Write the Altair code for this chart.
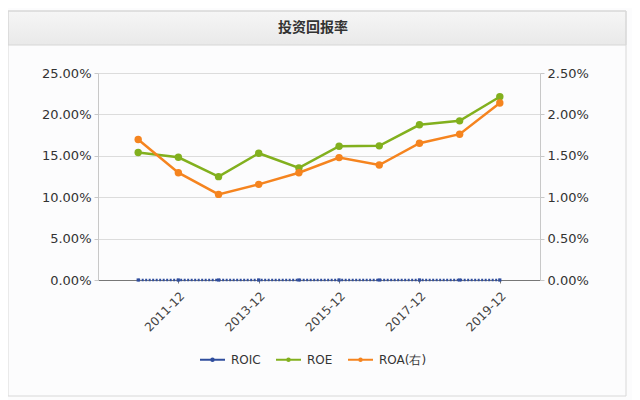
import altair as alt
import pandas as pd

periods = ["2010-12", "2011-12", "2012-12", "2013-12", "2014-12",
           "2015-12", "2016-12", "2017-12", "2018-12", "2019-12"]
tick_labels = ["2011-12", "2013-12", "2015-12", "2017-12", "2019-12"]
roic = [0.0, 0.0, 0.0, 0.0, 0.0, 0.0, 0.0, 0.0, 0.0, 0.0]
roe = [15.39, 14.82, 12.48, 15.31, 13.53, 16.16, 16.20, 18.74, 19.22, 22.13]
roa = [1.696, 1.296, 1.034, 1.155, 1.296, 1.478, 1.389, 1.652, 1.761, 2.137]
series_names = ["ROIC", "ROE", "ROA(右)"]
series_colors = ["#2f4d9d", "#82b01e", "#f5841f"]

def frame(name, vals):
    return pd.DataFrame({"period": periods, "value": [v / 100 for v in vals], "series": name})

df_roic = frame("ROIC", roic)
df_roe = frame("ROE", roe)
df_roa = frame("ROA(右)", roa)

FONT = "DejaVu Sans"
LEG_PATH = "M-1,0L1,0M-0.1,0A0.1,0.1,0,1,0,0.1,0A0.1,0.1,0,1,0,-0.1,0"

x_enc = alt.X("period:O", sort=periods,
              scale=alt.Scale(type="point", padding=1),
              axis=alt.Axis(values=tick_labels, labelAngle=-45, labelAlign="right",
                            labelBaseline="top", labelFontSize=12, labelColor="#444",
                            labelFont=FONT, domainColor="#777", tickColor="#777",
                            tickSize=3, title=None, grid=False, labelPadding=7))

color_enc = alt.Color("series:N",
                      scale=alt.Scale(domain=series_names, range=series_colors),
                      legend=alt.Legend(title=None, orient="none", direction="horizontal",
                                        legendX=101, legendY=273,
                                        symbolType=LEG_PATH, symbolSize=625,
                                        symbolStrokeWidth=2, labelFontSize=12,
                                        labelFont=FONT, labelColor="#333",
                                        columnPadding=11, labelOffset=5))
color_nolegend = alt.Color("series:N",
                           scale=alt.Scale(domain=series_names, range=series_colors),
                           legend=None)

y_left = alt.Y("value:Q", scale=alt.Scale(domain=[0, 0.25]),
               axis=alt.Axis(format=".2%", values=[0, 0.05, 0.10, 0.15, 0.20, 0.25],
                             title=None, labelFontSize=13, labelFont=FONT,
                             labelColor="#333", domainColor="#c8c8c8",
                             tickColor="#c8c8c8", tickSize=4, gridColor="#dcdcdc",
                             labelPadding=3))
y_right = alt.Y("value:Q", scale=alt.Scale(domain=[0, 0.025]),
                axis=alt.Axis(format=".2%", orient="right",
                              values=[0, 0.005, 0.010, 0.015, 0.020, 0.025],
                              title=None, labelFontSize=13, labelFont=FONT,
                              labelColor="#333", domainColor="#c8c8c8",
                              tickColor="#c8c8c8", tickSize=4, grid=False,
                              labelPadding=3))

blank = alt.Data(values=[{}])
panel = alt.Chart(blank).mark_rect(fill="transparent", stroke="#d8d8d8", strokeWidth=1).encode(
    x=alt.value(-90), x2=alt.value(528), y=alt.value(-62), y2=alt.value(323))
title_bar = alt.Chart(blank).mark_rect(
    color=alt.LinearGradient(gradient="linear", x1=0, x2=0, y1=0, y2=1,
                             stops=[alt.GradientStop(color="#f6f6f6", offset=0),
                                    alt.GradientStop(color="#e9e9e9", offset=1)]),
    stroke="#d6d6d6", strokeWidth=1).encode(
    x=alt.value(-90), x2=alt.value(528), y=alt.value(-62), y2=alt.value(-28))

roic_line = alt.Chart(df_roic).mark_line(strokeWidth=2.5, strokeDash=[2, 1.5]).encode(
    x=x_enc, y=y_left, color=color_enc)
roic_pts = alt.Chart(df_roic).mark_point(filled=True, size=10, opacity=1, shape="square").encode(
    x=x_enc, y=y_left, color=color_nolegend)
roe_line = alt.Chart(df_roe).mark_line(strokeWidth=2.5).encode(
    x=x_enc, y=y_left, color=color_enc)
roe_pts = alt.Chart(df_roe).mark_point(filled=True, size=55, opacity=1).encode(
    x=x_enc, y=y_left, color=color_nolegend)
left = alt.layer(roic_line, roic_pts, roe_line, roe_pts)

roa_line = alt.Chart(df_roa).mark_line(strokeWidth=2.5).encode(
    x=x_enc, y=y_right, color=color_enc)
roa_pts = alt.Chart(df_roa).mark_point(filled=True, size=55, opacity=1).encode(
    x=x_enc, y=y_right, color=color_nolegend)
right = alt.layer(roa_line, roa_pts)

chart = alt.layer(title_bar, panel, left, right).resolve_scale(y="independent").properties(
    width=442, height=207,
    autosize=alt.AutoSizeParams(type="none"),
    padding={"left": 90, "top": 65, "right": 92, "bottom": 120},
    background="#fcfcfd",
    title=alt.TitleParams("投资回报率", font="Noto Sans CJK SC", fontSize=14,
                          fontWeight="bold", color="#333", anchor="middle",
                          offset=-24, dx=-6),
).configure_view(stroke=None)

chart.save("out.html", embed_options={"renderer": "svg", "actions": False})
